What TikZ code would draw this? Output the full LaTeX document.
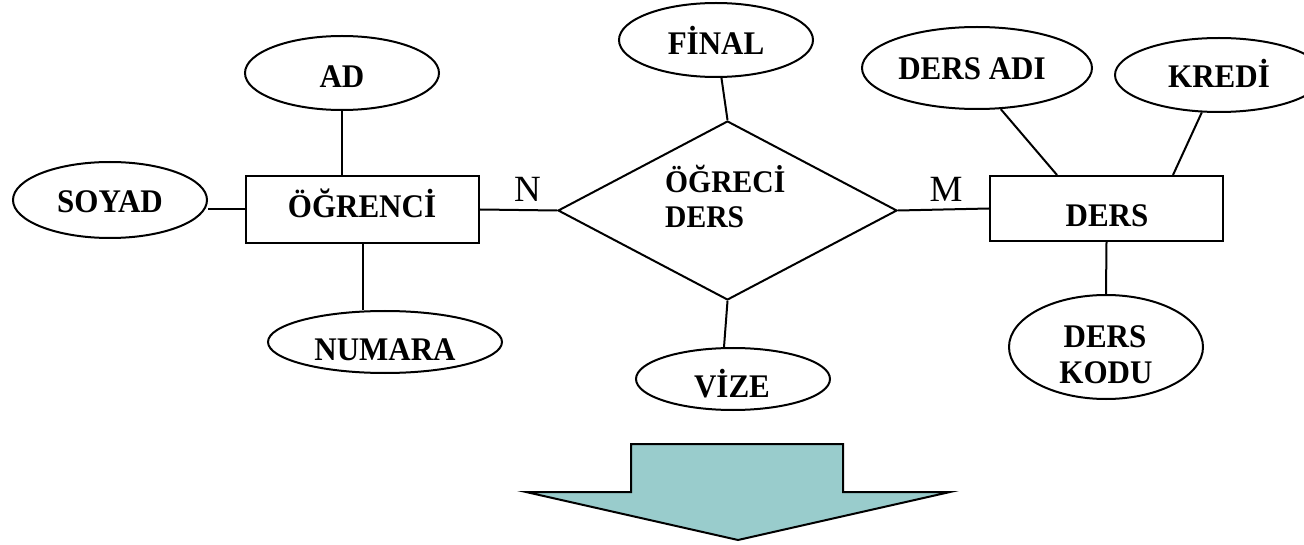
\documentclass[tikz,border=0pt]{standalone}
\usepackage{fontspec}
\setmainfont{Liberation Serif}
\newfontfamily\tallfont[FakeStretch=0.94]{Liberation Serif}
\usetikzlibrary{shapes.geometric}
\definecolor{arrowfill}{RGB}{153,204,204}
\tikzset{
  attr/.style={draw, ellipse, inner sep=0pt, line width=2pt},
  entity/.style={draw, rectangle, inner sep=0pt, line width=2pt},
  rel/.style={draw, diamond, inner sep=0pt, line width=2pt},
  lbl/.style={anchor=base, inner sep=0pt, font=\tallfont\fontsize{33}{35}\selectfont\bfseries},
  rlbl/.style={anchor=base west, inner sep=0pt, font=\tallfont\fontsize{31.5}{35}\selectfont\bfseries},
  card/.style={anchor=base, inner sep=0pt, font=\fontsize{37}{40}\selectfont},
  conn/.style={line width=2pt}
}
\begin{document}
\begin{tikzpicture}[x=1pt, y=-1pt]
\clip (0,0) rectangle (1304,545);
\fill[white] (0,0) rectangle (1304,545);
% entities
\node[entity, minimum width=233pt, minimum height=67pt] (ogr) at (362.5,209.5) {};
\node[lbl] (ogrt) at (362,218) {ÖĞRENCİ};
\node[entity, minimum width=233pt, minimum height=65pt] (ders) at (1106.5,208.5) {};
\node[lbl] (derst) at (1107,227) {DERS};
% relationship
\node[rel, minimum width=339pt, minimum height=179pt] (rel) at (727.5,210.5) {};
\node[rlbl] (relt1) at (665,193) {ÖĞRECİ};
\node[rlbl] (relt2) at (665,228) {DERS};
% attributes
\node[attr, minimum width=194pt, minimum height=74pt] (ad) at (342,73) {};
\node[lbl] (adt) at (342,88) {AD};
\node[attr, minimum width=194pt, minimum height=76pt] (soyad) at (110,200) {};
\node[lbl] (soyadt) at (110,213) {SOYAD};
\node[attr, minimum width=234pt, minimum height=62pt] (numara) at (385,342) {};
\node[lbl] (numarat) at (385,360) {NUMARA};
\node[attr, minimum width=194pt, minimum height=74pt] (final) at (716,40) {};
\node[lbl] (finalt) at (716,55) {FİNAL};
\node[attr, minimum width=194pt, minimum height=62pt] (vize) at (733,379) {};
\node[lbl] (vizet) at (732,397) {VİZE};
\node[attr, minimum width=230pt, minimum height=82pt] (dersadi) at (977,68) {};
\node[lbl] (dersadit) at (972,80) {DERS ADI};
\node[attr, minimum width=208pt, minimum height=74pt] (kredi) at (1219,75) {};
\node[lbl] (kredit) at (1219,88) {KREDİ};
\node[attr, minimum width=194pt, minimum height=104pt] (derskodu) at (1106,347) {};
\node[lbl] (derskodut1) at (1105,348) {DERS};
\node[lbl] (derskodut2) at (1106,383) {KODU};
% cardinalities
\node[card] (n) at (527.5,202) {N};
\node[card] (m) at (946,202) {M};
% connectors
\draw[conn] (ad.south) -- (ad.south |- ogr.north);
\draw[conn] (ogr.west) -- (ogr.west -| soyad.east);
\draw[conn] (ogr.south) -- (ogr.south |- numara.north);
\draw[conn] (ogr.east) -- (rel.west);
\draw[conn] (rel.east) -- (ders.west);
\draw[conn] (rel.north) -- (final);
\draw[conn] (rel.south) -- ([xshift=-9pt]vize.north);
\draw[conn] (dersadi.-60) -- ([xshift=-49.5pt]ders.north);
\draw[conn] (kredi) -- ([xshift=66.5pt]ders.north);
\draw[conn] (ders.south) -- (derskodu.north);
% big arrow
\draw[fill=arrowfill, line width=2pt, line join=miter]
  (631,444) -- (843,444) -- (843,492) -- (950,492) -- (738,540) -- (526,492) -- (631,492) -- cycle;
\end{tikzpicture}
\end{document}
